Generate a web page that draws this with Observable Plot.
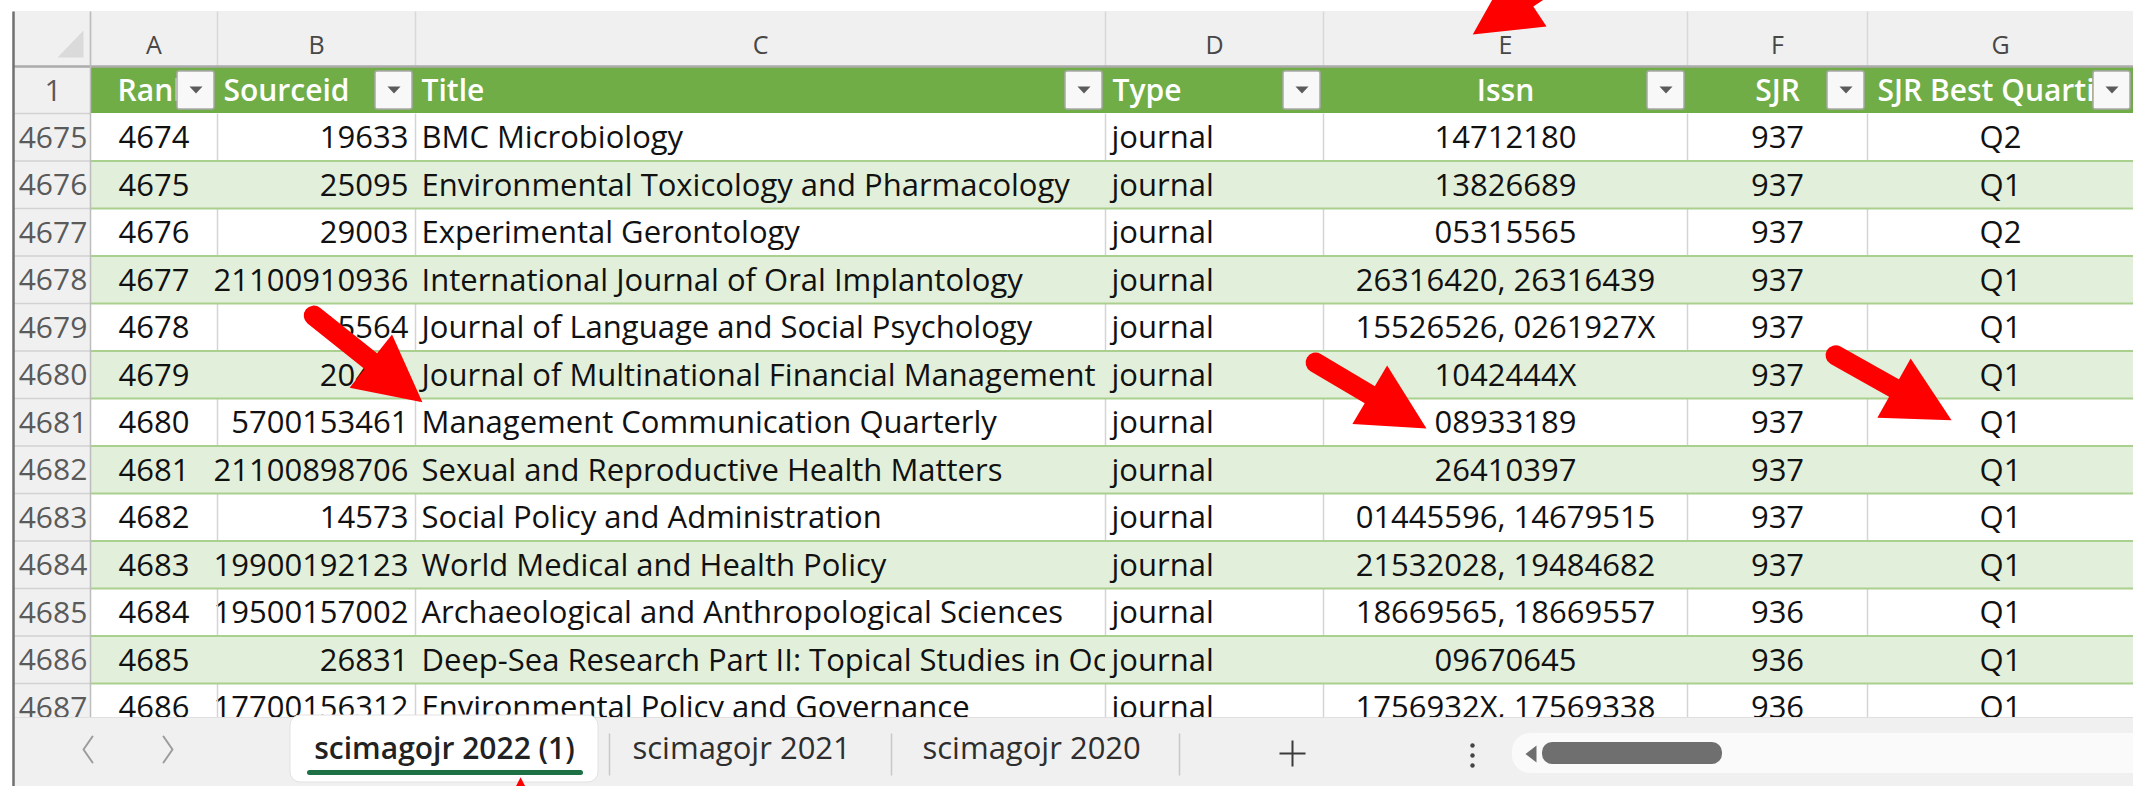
<!DOCTYPE html>
<html><head><meta charset="utf-8">
<script src="https://cdn.jsdelivr.net/npm/d3@7"></script>
<script src="https://cdn.jsdelivr.net/npm/@observablehq/plot@0.6"></script>
<style>html,body{margin:0;padding:0;background:#fff;overflow:hidden}#chart svg{display:block}</style>
</head><body><div id="chart"></div>
<script>
// ---------------- DATA ----------------
const columnLetters = ["A", "B", "C", "D", "E", "F", "G"];
const headerLabels = ["Rank", "Sourceid", "Title", "Type", "Issn", "SJR", "SJR Best Quartile"];
const rowNumbers = [4675, 4676, 4677, 4678, 4679, 4680, 4681, 4682, 4683, 4684, 4685, 4686, 4687];
const ranks = ["4674", "4675", "4676", "4677", "4678", "4679", "4680", "4681", "4682", "4683", "4684", "4685", "4686"];
const sourceIds = ["19633", "25095", "29003", "21100910936", "15564", "20464", "5700153461", "21100898706", "14573", "19900192123", "19500157002", "26831", "17700156312"];
const titles = [
  "BMC Microbiology",
  "Environmental Toxicology and Pharmacology",
  "Experimental Gerontology",
  "International Journal of Oral Implantology",
  "Journal of Language and Social Psychology",
  "Journal of Multinational Financial Management",
  "Management Communication Quarterly",
  "Sexual and Reproductive Health Matters",
  "Social Policy and Administration",
  "World Medical and Health Policy",
  "Archaeological and Anthropological Sciences",
  "Deep-Sea Research Part II: Topical Studies in Oceanography",
  "Environmental Policy and Governance"
];
const types = ["journal", "journal", "journal", "journal", "journal", "journal", "journal", "journal", "journal", "journal", "journal", "journal", "journal"];
const issns = ["14712180", "13826689", "05315565", "26316420, 26316439", "15526526, 0261927X", "1042444X", "08933189", "26410397", "01445596, 14679515", "21532028, 19484682", "18669565, 18669557", "09670645", "1756932X, 17569338"];
const sjrs = ["937", "937", "937", "937", "937", "937", "937", "937", "937", "937", "936", "936", "936"];
const quartiles = ["Q2", "Q1", "Q2", "Q1", "Q1", "Q1", "Q1", "Q1", "Q1", "Q1", "Q1", "Q1", "Q1"];
const sheetTabs = ["scimagojr 2022 (1)", "scimagojr 2021", "scimagojr 2020"];

// annotation arrows: which cell they point at (fractions inside that cell), heading in degrees, length
const arrowTargets = [
  {area: "letters", col: 4, fx: 0.41, fy: 0.42, angle: 146.5, length: 150},
  {area: "cell", col: 2, row: 6, fx: 0.01, fy: 0.08, angle: 38.6, length: 139},
  {area: "cell", col: 4, row: 6, fx: 0.283, fy: 0.63, angle: 30.7, length: 129},
  {area: "cell", col: 6, row: 6, fx: 0.316, fy: 0.46, angle: 29.3, length: 133},
  {area: "tab", col: 0, fx: 0.747, fy: 0.92, angle: -90, length: 150}
];

// ---------------- LAYOUT ----------------
const W = 2133, H = 786;
const frameX = 13;
const colEdges = [90, 217, 415, 1105, 1323, 1687, 1867, 2133];
const letterTop = 11, letterBottom = 66, headerBottom = 113, rowH = 47.5, gridBottom = 717;
const cellAlign = ["middle", "end", "start", "start", "middle", "middle", "middle"];
const headAlign = ["middle", "start", "start", "start", "middle", "middle", "start"];
const headPad = [0, 6, 6, 7, 0, 0, 10];
const FS = 31;
const green = "#70AD47", band = "#E2EFDA", bandLine = "#A9D08E", chrome = "#F0F0F0";
const rowTop = i => headerBottom + i * rowH;
const colMid = j => (colEdges[j] + colEdges[j + 1]) / 2;
const textX = (j, a, p) => a === "middle" ? colMid(j) : a === "end" ? colEdges[j + 1] - 7 : colEdges[j] + p;

const tabBox = {x1: 290, x2: 598, y1: 717, y2: 782};
const tabText = [{x: 444, a: "middle", w: 600, f: "#222"}, {x: 632, a: "start", w: 400, f: "#2E2E2E"}, {x: 922, a: "start", w: 400, f: "#2E2E2E"}];
const tabSeps = [609, 891, 1179];
const tabY = 749;

const columns = [ranks, sourceIds, titles, types, issns, sjrs, quartiles];
const rowsIdx = rowNumbers.map((rn, i) => ({i, rn}));

const marks = [];
// page background
marks.push(Plot.rect([0], {x1: () => 0, x2: () => W, y1: () => 0, y2: () => H, fill: "white"}));

// data cells, column by column (so each column's background clips the previous overflow)
columns.forEach((vals, j) => {
  const data = rowsIdx.map(d => ({...d, v: vals[d.i]}));
  marks.push(Plot.rect(data, {
    x1: () => colEdges[j], x2: () => colEdges[j + 1],
    y1: d => rowTop(d.i), y2: d => rowTop(d.i + 1),
    fill: d => d.i % 2 ? band : "white"
  }));
  marks.push(Plot.text(data, {
    x: () => textX(j, cellAlign[j], 6), y: d => rowTop(d.i) + rowH / 2 + 1,
    text: d => d.v, textAnchor: cellAlign[j], fontSize: FS, fill: "#111"
  }));
});

// vertical gridlines in white rows
const vgrid = [];
rowsIdx.filter(d => d.i % 2 === 0).forEach(d => colEdges.slice(1, 7).forEach(x => vgrid.push({x, i: d.i})));
marks.push(Plot.link(vgrid, {x1: d => d.x, x2: d => d.x, y1: d => rowTop(d.i), y2: d => rowTop(d.i + 1), stroke: "#D4D4D4", strokeWidth: 1.5}));
// horizontal band borders
marks.push(Plot.link(rowsIdx.slice(1), {x1: () => colEdges[0], x2: () => W, y1: d => rowTop(d.i), y2: d => rowTop(d.i), stroke: bandLine, strokeWidth: 2.2}));

// row-number column
marks.push(Plot.rect([0], {x1: () => frameX, x2: () => colEdges[0], y1: () => letterBottom, y2: () => gridBottom, fill: chrome}));
marks.push(Plot.link(rowsIdx, {x1: () => frameX, x2: () => colEdges[0], y1: d => rowTop(d.i), y2: d => rowTop(d.i), stroke: "#D2D2D2", strokeWidth: 1.5}));
marks.push(Plot.text(rowsIdx, {x: () => (frameX + colEdges[0]) / 2 + 1, y: d => rowTop(d.i) + rowH / 2 + 1, text: d => String(d.rn), fontSize: 30, fill: "#5A5A5A"}));
marks.push(Plot.text(["1"], {x: () => (frameX + colEdges[0]) / 2 + 1, y: () => (letterBottom + headerBottom) / 2 + 1, text: d => d, fontSize: 30, fill: "#5A5A5A"}));

// header (table) row
marks.push(Plot.rect([0], {x1: () => colEdges[0], x2: () => W, y1: () => letterBottom, y2: () => headerBottom, fill: green}));
headerLabels.forEach((lab, j) => {
  marks.push(Plot.text([lab], {
    x: () => textX(j, headAlign[j], headPad[j]), y: () => (letterBottom + headerBottom) / 2 + 1,
    text: d => d, textAnchor: headAlign[j], fontSize: 30, fontWeight: 600, fill: "white"
  }));
});
// filter buttons
const buttons = columnLetters.map((c, j) => ({j, x2: colEdges[j + 1] - 3}));
marks.push(Plot.rect(buttons, {x1: d => d.x2 - 37, x2: d => d.x2, y1: () => 71, y2: () => 109, fill: "#F8F8F8", stroke: "#A8A8A8", strokeWidth: 1.5, rx: 2}));
const tri = [];
buttons.forEach(d => { const cx = d.x2 - 18.5; tri.push({j: d.j, x: cx - 6.5, y: 86}, {j: d.j, x: cx + 6.5, y: 86}, {j: d.j, x: cx, y: 93}); });
marks.push(Plot.line(tri, {x: "x", y: "y", z: "j", fill: "#5B5B5B", stroke: "none", curve: "linear-closed"}));

// column-letter row
marks.push(Plot.rect([0], {x1: () => frameX, x2: () => W, y1: () => letterTop, y2: () => letterBottom, fill: chrome}));
marks.push(Plot.link(colEdges.slice(0, 7), {x1: d => d, x2: d => d, y1: () => letterTop, y2: () => letterBottom, stroke: "#D8D8D8", strokeWidth: 1.5}));
marks.push(Plot.text(columnLetters, {x: (d, j) => colMid(j), y: () => 45, text: d => d, fontSize: 25, fill: "#474747"}));
marks.push(Plot.line([{x: 57, y: 57}, {x: 83, y: 57}, {x: 83, y: 30}], {x: "x", y: "y", fill: "#DADADA", stroke: "none", curve: "linear-closed"}));
marks.push(Plot.link([0], {x1: () => frameX, x2: () => W, y1: () => letterBottom, y2: () => letterBottom, stroke: "#ABABAB", strokeWidth: 2.5}));
marks.push(Plot.link([0], {x1: () => colEdges[0], x2: () => colEdges[0], y1: () => letterTop, y2: () => gridBottom, stroke: "#BDBDBD", strokeWidth: 1.5}));

// sheet tab bar
marks.push(Plot.rect([0], {x1: () => frameX, x2: () => W, y1: () => gridBottom, y2: () => H, fill: chrome}));
marks.push(Plot.link([0], {x1: () => frameX, x2: () => W, y1: () => gridBottom, y2: () => gridBottom, stroke: "#E0E0E0", strokeWidth: 1}));
marks.push(Plot.rect([tabBox], {x1: "x1", x2: "x2", y1: d => d.y1 - 2, y2: "y2", fill: "white", stroke: "#E2E2E2", strokeWidth: 1, rx: 10}));
marks.push(Plot.link([0], {x1: () => 309, x2: () => 580, y1: () => 772, y2: () => 772, stroke: "#1E7145", strokeWidth: 5, strokeLinecap: "round"}));
sheetTabs.forEach((name, i) => {
  marks.push(Plot.text([name], {
    x: () => tabText[i].x, y: () => tabY, text: d => d,
    textAnchor: tabText[i].a, fontSize: i === 0 ? 30 : 31,
    fontWeight: tabText[i].w, fill: tabText[i].f
  }));
});
marks.push(Plot.link(tabSeps, {x1: d => d, x2: d => d, y1: () => 733, y2: () => 775, stroke: "#C8C8C8", strokeWidth: 1.5}));
// nav chevrons
const chev = [
  {k: 0, x: 92, y: 736}, {k: 0, x: 83, y: 749}, {k: 0, x: 92, y: 762},
  {k: 1, x: 163, y: 736}, {k: 1, x: 172, y: 749}, {k: 1, x: 163, y: 762}
];
marks.push(Plot.line(chev, {x: "x", y: "y", z: "k", stroke: "#9C9C9C", strokeWidth: 2}));
// plus, more-dots
marks.push(Plot.link([{x1: 1279, y1: 753, x2: 1305, y2: 753}, {x1: 1292, y1: 740, x2: 1292, y2: 766}], {x1: "x1", y1: "y1", x2: "x2", y2: "y2", stroke: "#3A3A3A", strokeWidth: 2}));
marks.push(Plot.dot([745, 755, 765], {x: () => 1472, y: d => d, r: 2.2, fill: "#444", stroke: "none"}));
// scroll bar
marks.push(Plot.rect([0], {x1: () => 1512, x2: () => W + 20, y1: () => 733, y2: () => 773, fill: "#FAFAFA", rx: 18}));
marks.push(Plot.line([{x: 1536, y: 745}, {x: 1525, y: 753.5}, {x: 1536, y: 762}], {x: "x", y: "y", fill: "#6E6E6E", stroke: "none", curve: "linear-closed"}));
marks.push(Plot.rect([0], {x1: () => 1542, x2: () => 1722, y1: () => 742, y2: () => 764, fill: "#6F6F6F", rx: 10}));

// left frame line
marks.push(Plot.link([0], {x1: () => frameX, x2: () => frameX, y1: () => letterTop, y2: () => H, stroke: "#707070", strokeWidth: 2.5}));

// red annotation arrows
const shaftW = 20, headL = 66, headW = 68;
const shafts = [], heads = [];
arrowTargets.forEach((a, k) => {
  let x0, x1, y0, y1;
  if (a.area === "cell") { x0 = colEdges[a.col]; x1 = colEdges[a.col + 1]; y0 = rowTop(a.row); y1 = rowTop(a.row + 1); }
  else if (a.area === "letters") { x0 = colEdges[a.col]; x1 = colEdges[a.col + 1]; y0 = letterTop; y1 = letterBottom; }
  else { x0 = tabBox.x1; x1 = tabBox.x2; y0 = tabBox.y1; y1 = tabBox.y2; }
  const tx = x0 + a.fx * (x1 - x0), ty = y0 + a.fy * (y1 - y0);
  const t = a.angle * Math.PI / 180, ux = Math.cos(t), uy = Math.sin(t);
  const bx = tx - headL * ux, by = ty - headL * uy;
  shafts.push({x1: tx - a.length * ux, y1: ty - a.length * uy, x2: bx + 4 * ux, y2: by + 4 * uy});
  heads.push({k, x: tx, y: ty}, {k, x: bx - headW / 2 * uy, y: by + headW / 2 * ux}, {k, x: bx + headW / 2 * uy, y: by - headW / 2 * ux});
});
marks.push(Plot.link(shafts, {x1: "x1", y1: "y1", x2: "x2", y2: "y2", stroke: "#FF0000", strokeWidth: shaftW, strokeLinecap: "round"}));
marks.push(Plot.line(heads, {x: "x", y: "y", z: "k", fill: "#FF0000", stroke: "none", curve: "linear-closed"}));

const chart = Plot.plot({
  width: W, height: H, margin: 0,
  x: {domain: [0, W], range: [0, W], axis: null},
  y: {domain: [0, H], range: [0, H], axis: null},
  style: {fontFamily: "'Open Sans', sans-serif", background: "white", overflow: "hidden"},
  marks
});

// clip the Title column's text to its cell width (spreadsheet-style truncation)
const ns = "http://www.w3.org/2000/svg";
const defs = document.createElementNS(ns, "defs");
const cp = document.createElementNS(ns, "clipPath");
cp.setAttribute("id", "clip-title-col");
cp.setAttribute("clipPathUnits", "userSpaceOnUse");
const cr = document.createElementNS(ns, "rect");
cr.setAttribute("x", colEdges[2]); cr.setAttribute("y", 0);
cr.setAttribute("width", colEdges[3] - colEdges[2]); cr.setAttribute("height", H);
cp.appendChild(cr); defs.appendChild(cp); chart.insertBefore(defs, chart.firstChild);
const textGroups = chart.querySelectorAll('g[aria-label="text"]');
if (textGroups[2]) textGroups[2].setAttribute("clip-path", "url(#clip-title-col)");

document.getElementById("chart").appendChild(chart);
</script>
</body></html>
